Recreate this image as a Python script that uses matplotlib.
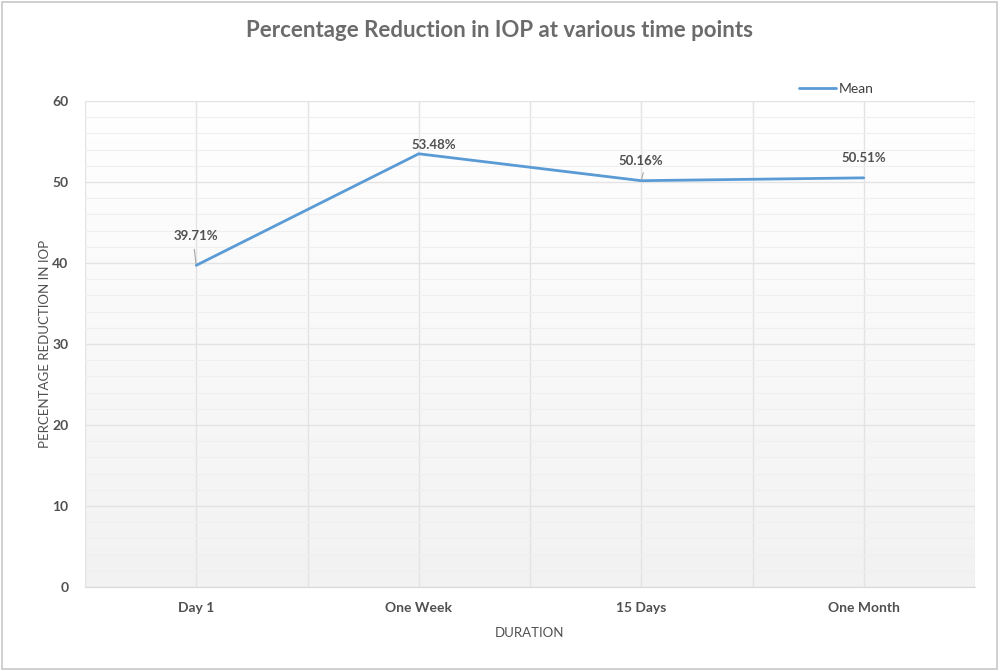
import matplotlib
matplotlib.use("Agg")
import matplotlib.pyplot as plt
import numpy as np
from matplotlib.ticker import MultipleLocator
from matplotlib.patches import Rectangle
from matplotlib.colors import LinearSegmentedColormap

categories = ["Day 1", "One Week", "15 Days", "One Month"]
mean_values = [39.71, 53.48, 50.16, 50.51]
value_labels = ["39.71%", "53.48%", "50.16%", "50.51%"]

plt.rcParams['font.family'] = ['Lato', 'DejaVu Sans']

fig = plt.figure(figsize=(10, 6.71), dpi=100)
fig.patch.set_facecolor('white')
fig.add_artist(Rectangle((0.002, 0.003), 0.995, 0.994, transform=fig.transFigure,
                         fill=False, edgecolor='#c8c8c8', linewidth=1.2))

ax = fig.add_axes([0.085, 0.1252, 0.89, 0.7243])
x = np.arange(len(categories))
ax.set_xlim(-0.5, len(categories) - 0.5)
ax.set_ylim(0, 60)

# gradient background
grad = np.linspace(0, 1, 256).reshape(-1, 1)
cmap = LinearSegmentedColormap.from_list('g', ['#f2f2f2', '#ffffff'])
ax.imshow(grad, extent=[-0.5, len(categories) - 0.5, 0, 60], origin='lower',
          aspect='auto', cmap=cmap, zorder=0)

ax.yaxis.set_major_locator(MultipleLocator(10))
ax.yaxis.set_minor_locator(MultipleLocator(2))
ax.set_xticks(x)
ax.set_xticklabels(categories)
ax.xaxis.set_minor_locator(MultipleLocator(0.5))
ax.grid(which='major', axis='y', color='#e3e3e3', linewidth=1.0, zorder=1)
ax.grid(which='minor', axis='y', color='#efefef', linewidth=0.8, zorder=1)
ax.grid(which='both', axis='x', color='#e3e3e3', linewidth=1.0, zorder=1)
ax.set_axisbelow(True)

for s in ['top', 'right', 'left']:
    ax.spines[s].set_visible(False)
ax.spines['bottom'].set_color('#d9d9d9')
ax.tick_params(which='both', length=0, colors='#404040', labelsize=10)
ax.tick_params(axis='y', pad=12)
ax.tick_params(axis='x', pad=11)
for lbl in ax.get_xticklabels() + ax.get_yticklabels():
    lbl.set_fontweight('bold')
    lbl.set_color('#505050')

ax.plot(x, mean_values, color='#5b9bd5', linewidth=2.0, zorder=3, label='Mean',
        solid_capstyle='round')

# data labels with leader lines (offsets in pixels)
offsets = [(0, 29), (15, 9), (0, 20), (0, 20)]
leaders = [(-2, 16), None, (2, 8), None]
for xi, yi, lab, (dx, dy), ld in zip(x, mean_values, value_labels, offsets, leaders):
    ax.annotate(lab, xy=(xi, yi), xytext=(dx * 0.72, dy * 0.72),
                textcoords='offset points', ha='center', va='center',
                fontsize=9.5, fontweight='bold', color='#505050', zorder=4)
    if ld is not None:
        ax.annotate('', xy=(xi, yi), xytext=(ld[0] * 0.72, ld[1] * 0.72),
                    textcoords='offset points',
                    arrowprops=dict(arrowstyle='-', color='#a6a6a6', lw=0.8,
                                    shrinkA=0, shrinkB=1))

ax.set_ylabel('PERCENTAGE REDUCTION IN IOP', fontsize=9.5, color='#505050', labelpad=1)
ax.set_xlabel('DURATION', fontsize=9.5, color='#505050', labelpad=9)

fig.text(0.5, 0.955, 'Percentage Reduction in IOP at various time points',
         ha='center', va='center', fontsize=16, fontweight='bold', color='#6b6b6b')

leg = ax.legend(loc='lower right', bbox_to_anchor=(0.895, 0.995), frameon=False,
                fontsize=10, handlelength=2.7, handletextpad=0.15, borderaxespad=0.2)
for t in leg.get_texts():
    t.set_color('#404040')

fig.savefig('out.png', dpi=100, facecolor='white')
